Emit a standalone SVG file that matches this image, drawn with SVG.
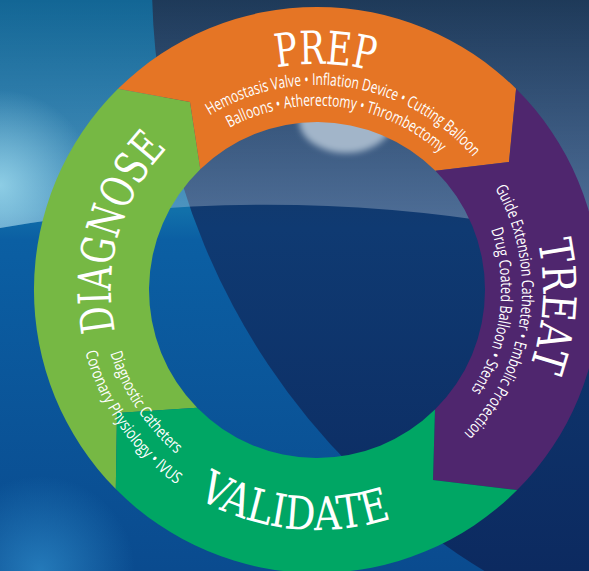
<svg xmlns="http://www.w3.org/2000/svg" width="589" height="571" viewBox="0 0 589 571">
<style>
.title{font-family:"DejaVu Serif","Liberation Serif",serif;font-stretch:condensed;font-size:46px;fill:#ffffff;}
.sub{font-family:"Open Sans","Noto Sans",sans-serif;font-size:16.5px;fill:#ffffff;}
</style>
<defs>
<linearGradient id="gL" x1="0" y1="0" x2="0" y2="571" gradientUnits="userSpaceOnUse">
<stop offset="0" stop-color="#0e6393"/>
<stop offset="0.37" stop-color="#1170aa"/>
<stop offset="0.42" stop-color="#0b5fa3"/>
<stop offset="1" stop-color="#0a4b8f"/>
</linearGradient>
<linearGradient id="gR" x1="0" y1="0" x2="0" y2="571" gradientUnits="userSpaceOnUse">
<stop offset="0" stop-color="#1a3656"/>
<stop offset="0.4" stop-color="#0f3a72"/>
<stop offset="1" stop-color="#0c2a60"/>
</linearGradient>
<linearGradient id="gOv" x1="0" y1="0" x2="0" y2="235" gradientUnits="userSpaceOnUse">
<stop offset="0" stop-color="#ffffff" stop-opacity="0.02"/>
<stop offset="0.85" stop-color="#ffffff" stop-opacity="0.24"/>
<stop offset="1" stop-color="#ffffff" stop-opacity="0.28"/>
</linearGradient>
<radialGradient id="gBlobL" cx="0" cy="185" r="95" gradientUnits="userSpaceOnUse">
<stop offset="0" stop-color="#a5e2f3" stop-opacity="0.75"/>
<stop offset="1" stop-color="#a5e2f3" stop-opacity="0"/>
</radialGradient>
<radialGradient id="gBlobBL" cx="40" cy="571" r="95" gradientUnits="userSpaceOnUse">
<stop offset="0" stop-color="#3aa0dc" stop-opacity="0.55"/>
<stop offset="1" stop-color="#3aa0dc" stop-opacity="0"/>
</radialGradient>
<clipPath id="cArch"><path d="M0,228 Q300,176 589,240 V0 H0 Z"/></clipPath>
<filter id="blur" x="-20%" y="-20%" width="140%" height="140%"><feGaussianBlur stdDeviation="3"/></filter>
<path id="pPrep" d="M104.6,212.7 A226,226 0 0 1 534.3,227.7"/>
<path id="pPrep1" d="M137.7,190.6 A205,205 0 0 1 518.2,250.9"/>
<path id="pPrep2" d="M152.3,207.5 A184,184 0 0 1 496.3,248.6"/>
<path id="pTreat" d="M408.2,83.2 A226,226 0 0 1 380.1,507"/>
<path id="pTreat1" d="M411,107.8 A205,205 0 0 1 362.1,490"/>
<path id="pTreat2" d="M400.5,126 A184,184 0 0 1 358.4,469.3"/>
<path id="pDiag" d="M195.9,456.7 A206,206 0 0 1 302.6,84.5"/>
<path id="pDiag1" d="M110.4,353.2 A216,216 0 0 0 279.5,502.7"/>
<path id="pDiag2" d="M85.2,352.1 A240,240 0 0 0 275.3,526.4"/>
<path id="pVal" d="M84.1,348.1 A240,240 0 0 0 532.7,395.2"/>
</defs>

<g id="background">
<rect x="0" y="0" width="589" height="571" fill="url(#gL)"/>
<circle cx="840" cy="-18" r="688" fill="url(#gR)"/>
<rect x="0" y="430" width="200" height="141" fill="url(#gBlobBL)"/>
<path d="M0,228 Q300,176 589,240 V0 H0 Z" fill="url(#gOv)"/>
<circle cx="0" cy="185" r="95" fill="url(#gBlobL)" clip-path="url(#cArch)"/>
<ellipse cx="346" cy="120" rx="47" ry="33" fill="#a2b5c9" filter="url(#blur)"/>
</g>

<g id="connectors"/>

<g id="node-diagnose">
<path d="M115.8,489.1 A283,283 0 0 1 118,88.8 L190,102 L200.3,169.2 A168,168 0 0 0 197.2,407.8 L117,413 Z" fill="#76b844"/>
<text class="title"><textPath href="#pDiag" startOffset="50%" text-anchor="middle" textLength="198" lengthAdjust="spacingAndGlyphs">DIAGNOSE</textPath></text>
</g>

<g id="node-prep">
<path d="M118,88.8 A283,283 0 0 1 516.1,88.8 L509,162 L435.4,170.8 A168,168 0 0 0 200.3,169.2 L190,102 Z" fill="#e57525"/>
<text class="title"><textPath href="#pPrep" startOffset="50%" text-anchor="middle" textLength="97" lengthAdjust="spacingAndGlyphs">PREP</textPath></text>
<text class="sub"><textPath href="#pPrep1" startOffset="50%" text-anchor="middle" textLength="290" lengthAdjust="spacingAndGlyphs">Hemostasis Valve • Inflation Device • Cutting Balloon</textPath></text>
<text class="sub"><textPath href="#pPrep2" startOffset="50%" text-anchor="middle" textLength="226" lengthAdjust="spacingAndGlyphs">Balloons • Atherectomy • Thrombectomy</textPath></text>
</g>

<g id="node-treat">
<path d="M516.1,88.8 A283,283 0 0 1 517.1,490.1 L433,480 L435,409.6 A168,168 0 0 0 435.4,170.8 L509,162 Z" fill="#4f266e"/>
<text class="title"><textPath href="#pTreat" startOffset="50%" text-anchor="middle" textLength="128" lengthAdjust="spacingAndGlyphs">TREAT</textPath></text>
<text class="sub"><textPath href="#pTreat1" startOffset="50%" text-anchor="middle" textLength="265" lengthAdjust="spacingAndGlyphs">Guide Extension Catheter • Embolic Protection</textPath></text>
<text class="sub"><textPath href="#pTreat2" startOffset="50%" text-anchor="middle" textLength="168" lengthAdjust="spacingAndGlyphs">Drug Coated Balloon • Stents</textPath></text>
</g>

<g id="node-validate">
<path d="M517.1,490.1 A283,283 0 0 1 115.8,489.1 L117,413 L197.2,407.8 A168,168 0 0 0 435,409.6 L433,480 Z" fill="#00a664"/>
<text class="title"><textPath href="#pVal" startOffset="50%" text-anchor="middle" textLength="202" lengthAdjust="spacingAndGlyphs">VALIDATE</textPath></text>
</g>

<g id="node-diagnose-items">
<text class="sub"><textPath href="#pDiag1" startOffset="0" textLength="122" lengthAdjust="spacingAndGlyphs">Diagnostic Catheters</textPath></text>
<text class="sub"><textPath href="#pDiag2" startOffset="0" textLength="164" lengthAdjust="spacingAndGlyphs">Coronary Physiology • IVUS</textPath></text>
</g>
</svg>
